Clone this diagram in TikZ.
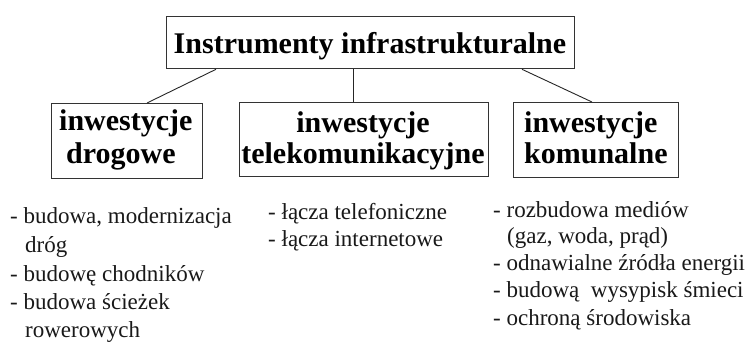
\documentclass[tikz,border=0pt]{standalone}
\usepackage{fontspec}
\setmainfont{Liberation Serif}
\begin{document}
\begin{tikzpicture}[x=1pt,y=-1pt,
  box/.style={draw=black!80, line width=1.3pt, inner sep=0pt, anchor=north west},
  link/.style={draw=black!85, line width=0.9pt},
  head/.style={font=\fontsize{30}{34}\selectfont\bfseries, inner sep=0pt, anchor=base west},
  headc/.style={head, anchor=base},
  item/.style={font=\fontsize{23}{28}\selectfont, inner sep=0pt, anchor=base west, text=black!90}]
\useasboundingbox[fill=white] (0,0) rectangle (748,343);
% boxes
\node[box, minimum width=408pt, minimum height=52pt] (top) at (166,16) {};
\node[box, minimum width=151pt, minimum height=75pt] (left) at (51,103) {};
\node[box, minimum width=249pt, minimum height=74pt] (mid) at (239,102) {};
\node[box, minimum width=165pt, minimum height=75pt] (right) at (513,102) {};
% box texts
\node[headc] (toptext) at (370,53) {Instrumenty infrastrukturalne};
\node[head] (l1) at (59,130) {inwestycje};
\node[head] (l2) at (66,163) {drogowe};
\node[headc] (m1) at (363,132) {inwestycje};
\node[headc] (m2) at (363,163) {telekomunikacyjne};
\node[head] (r1) at (524,132) {inwestycje};
\node[head] (r2) at (524,163) {komunalne};
% connectors
\draw[link] ([xshift=50pt]top.south west) -- ([xshift=96pt]left.north west);
\draw[link] ([xshift=187pt]top.south west) -- ([xshift=114pt]mid.north west);
\draw[link] ([xshift=356pt]top.south west) -- ([xshift=79pt]right.north west);
% lists
\node[item] (a1) at (10,223) {- budowa, modernizacja};
\node[item] (a2) at (25,252) {dróg};
\node[item] (a3) at (10,281) {- budowę chodników};
\node[item] (a4) at (10,309) {- budowa ścieżek};
\node[item] (a5) at (25,337) {rowerowych};
\node[item] (b1) at (268,219) {- łącza telefoniczne};
\node[item] (b2) at (268,246) {- łącza internetowe};
\node[item] (c1) at (493,217) {- rozbudowa mediów};
\node[item] (c2) at (507,243) {(gaz, woda, prąd)};
\node[item] (c3) at (493,270) {- odnawialne źródła energii};
\node[item] (c4) at (493,297) {- budową\ \ wysypisk śmieci};
\node[item] (c5) at (493,325) {- ochroną środowiska};
\end{tikzpicture}
\end{document}
